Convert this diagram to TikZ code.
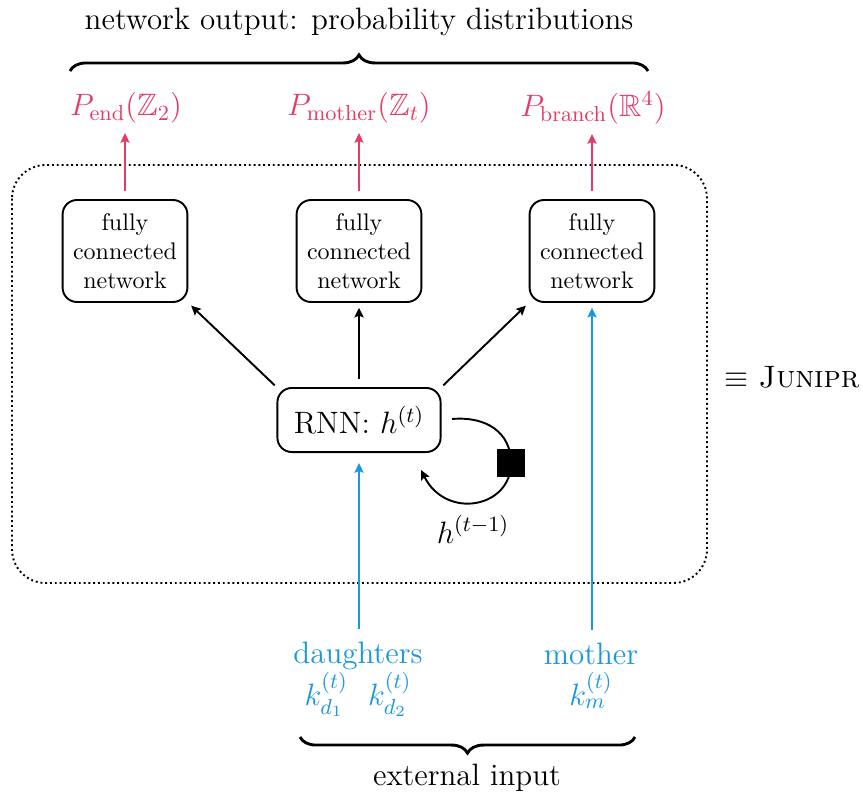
\RequirePackage{fix-cm}
\documentclass[tikz,border=0pt]{standalone}
\usepackage{amssymb}
\usetikzlibrary{arrows.meta,decorations.pathreplacing}
\definecolor{outred}{RGB}{228,60,102}
\definecolor{inblue}{RGB}{25,152,222}
\begin{document}
\begin{tikzpicture}[x=0.41667pt,y=-0.41667pt,
  every node/.style={font=\fontsize{12.9}{15.5}\selectfont, inner sep=0pt},
  fcbox/.style={draw, line width=0.8pt, rounded corners=6pt, minimum width=52pt, minimum height=42.5pt, align=center, font=\fontsize{10}{12}\selectfont},
  rnnbox/.style={draw, line width=0.8pt, rounded corners=6pt, minimum width=68pt, minimum height=26.7pt},
  arr/.style={-{Stealth[length=4pt,width=3.8pt,inset=0.7pt]}, line width=0.8pt},
  bracestyle/.style={decorate, decoration={brace, amplitude=6.7pt}, line width=1.2pt},
  framebox/.style={line width=0.8pt, dash pattern=on 0.8pt off 1.2pt, rounded corners=14pt},
]
\useasboundingbox (0,0) rectangle (863,792);

% outer frame
\draw[framebox] (12,165) rectangle (707,583);

% title and top brace
\node (title) at (359,22) {network output: probability distributions};
\coordinate (tbl) at (70,71);
\coordinate (tbr) at (648,71);
\draw[bracestyle] (tbl) -- (tbr);

% output labels
\node[text=outred] (pend) at (126,108) {$P_{\mathrm{end}}(\mathbb{Z}_2)$};
\node[text=outred] (pmother) at (359,108) {$P_{\mathrm{mother}}(\mathbb{Z}_t)$};
\node[text=outred] (pbranch) at (593,108) {$P_{\mathrm{branch}}(\mathbb{R}^4)$};

% fully connected networks
\node[fcbox] (fc1) at (125,251) {fully\\connected\\network};
\node[fcbox] (fc2) at (359,251) {fully\\connected\\network};
\node[fcbox] (fc3) at (592,251) {fully\\connected\\network};

% RNN
\node[rnnbox] (rnn) at (359,420) {RNN: $h^{(t)}$};

% red output arrows
\draw[arr, outred, shorten <=3.3pt, shorten >=3.8pt] (fc1.north) -- (fc1.north |- pend.south);
\draw[arr, outred, shorten <=3.3pt, shorten >=3.8pt] (fc2.north) -- (fc2.north |- pmother.south);
\draw[arr, outred, shorten <=3.3pt, shorten >=3.8pt] (fc3.north) -- (fc3.north |- pbranch.south);

% black arrows RNN -> FC
\draw[arr, shorten <=1pt, shorten >=1.6pt] (rnn.north west) -- (fc1.south east);
\draw[arr, shorten <=3.3pt, shorten >=2pt] (rnn.north) -- (rnn.north |- fc2.south);
\draw[arr, shorten <=1pt, shorten >=1.6pt] (rnn.north east) -- (fc3.south west);

% recurrence loop
\coordinate (ls) at (452,419);
\coordinate (lm) at (511,463);
\coordinate (le) at (421,470);
\draw[arr] (ls) .. controls (487,416) and (511,433) .. (lm) .. controls (511,508) and (446,520) .. (le);
\node[fill=black, minimum size=12pt] (sq) at (lm) {};
\node[anchor=base] (hprev) at (473,543) {$h^{(t-1)}$};

% Junipr
\node[anchor=base] (junipr) at (792,387) {$\equiv$ \textsc{Junipr}};

% inputs
\node[anchor=base, text=inblue] (dau) at (358,663) {daughters};
\node[anchor=base, text=inblue] (kd) at (358,705) {$k_{d_1}^{(t)}\ \ k_{d_2}^{(t)}$};
\node[anchor=base, text=inblue] (mot) at (591,664) {mother};
\node[anchor=base, text=inblue] (km) at (591,705) {$k_{m}^{(t)}$};

\draw[arr, inblue, shorten <=5pt, shorten >=4.2pt] (rnn.south |- dau.north) -- (rnn.south);
\draw[arr, inblue, shorten <=5pt, shorten >=2pt] (mot.north -| fc3.south) -- (fc3.south);

% bottom brace
\coordinate (bbr) at (635,737);
\coordinate (bbl) at (300,737);
\draw[bracestyle] (bbr) -- (bbl);
\node[anchor=base] (ext) at (467,785) {external input};
\end{tikzpicture}
\end{document}
